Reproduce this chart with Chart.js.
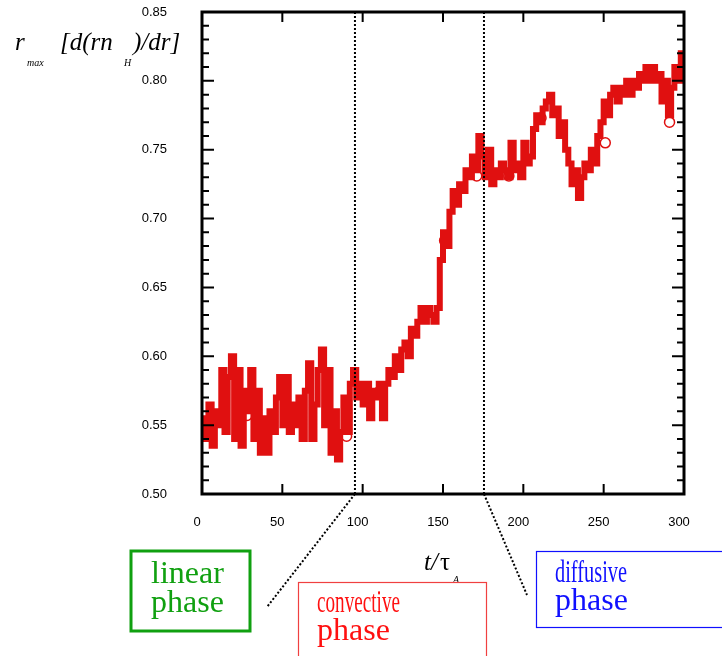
<!DOCTYPE html>
<html>
<head>
<meta charset="utf-8">
<script src="https://cdn.jsdelivr.net/npm/chart.js@4.4.1/dist/chart.umd.min.js"></script>
<style>
  html, body { margin: 0; padding: 0; background: #fff; }
  canvas { display: block; }
</style>
</head>
<body>
<canvas id="chart" width="722" height="656"></canvas>
<script>
// sample spacing of the trace, in t/tau_A
const TIME_STEP = 2;

// r_max [d(r n_H)/dr], one value every TIME_STEP from t = 0 to 300
const rValues = [
  0.555, 0.540, 0.565, 0.535, 0.560, 0.550, 0.590, 0.545, 0.585, 0.600,
  0.540, 0.590, 0.535, 0.575, 0.560, 0.590, 0.540, 0.575, 0.530, 0.555,
  0.530, 0.560, 0.545, 0.570, 0.585, 0.550, 0.585, 0.545, 0.565, 0.550,
  0.570, 0.540, 0.575, 0.595, 0.540, 0.565, 0.590, 0.605, 0.550, 0.590,
  0.530, 0.560, 0.525, 0.545, 0.570, 0.545, 0.580, 0.590, 0.570, 0.580,
  0.565, 0.580, 0.555, 0.575, 0.570, 0.580, 0.555, 0.580, 0.590, 0.585,
  0.600, 0.590, 0.605, 0.610, 0.600, 0.620, 0.615, 0.625, 0.635, 0.625,
  0.635, 0.630, 0.625, 0.635, 0.670, 0.690, 0.680, 0.705, 0.720, 0.710,
  0.725, 0.720, 0.735, 0.730, 0.745, 0.735, 0.760, 0.745, 0.730, 0.750,
  0.725, 0.735, 0.730, 0.740, 0.735, 0.730, 0.755, 0.735, 0.740, 0.730,
  0.755, 0.740, 0.745, 0.765, 0.775, 0.770, 0.780, 0.785, 0.790, 0.775,
  0.780, 0.760, 0.770, 0.750, 0.740, 0.725, 0.735, 0.715, 0.730, 0.740,
  0.735, 0.750, 0.740, 0.760, 0.770, 0.785, 0.775, 0.790, 0.795, 0.785,
  0.795, 0.790, 0.800, 0.790, 0.800, 0.795, 0.805, 0.800, 0.810, 0.800,
  0.810, 0.800, 0.805, 0.785, 0.800, 0.775, 0.795, 0.810, 0.800, 0.820,
  0.810
];

// open circle markers
const markerTimes = [2, 28, 90, 110, 151, 171, 191, 211, 251, 291];
const markerValues = [0.550, 0.557, 0.542, 0.574, 0.684, 0.731, 0.731, 0.773, 0.755, 0.770];

const xTicks = [0, 50, 100, 150, 200, 250, 300];
const yTicks = [0.50, 0.55, 0.60, 0.65, 0.70, 0.75, 0.80, 0.85];
const yMinorStep = 0.01;

// phase boundaries, t/tau_A
const phaseBounds = [95.2, 175.5];

const RED = '#e01010';
const tickFont = { family: '"Liberation Sans", Arial, sans-serif', size: 13 };

const traceData = rValues.map((v, i) => ({ x: i * TIME_STEP, y: v }));
const markerData = markerTimes.map((t, i) => ({ x: t, y: markerValues[i] }));

// frame, inward ticks, phase lines, labels and boxes
const decorations = {
  id: 'decorations',
  afterDraw(chart) {
    const ctx = chart.ctx;
    const { left, right, top, bottom } = chart.chartArea;
    const xs = chart.scales.x, ys = chart.scales.y;
    ctx.save();

    // phase boundaries + dotted leaders to the boxes
    ctx.strokeStyle = '#000';
    ctx.lineWidth = 2;
    ctx.setLineDash([2, 2]);
    const leaderEnds = [[267, 607], [527, 595]];
    phaseBounds.forEach((t, i) => {
      const px = xs.getPixelForValue(t);
      ctx.beginPath();
      ctx.moveTo(px, top);
      ctx.lineTo(px, bottom);
      ctx.stroke();
      ctx.beginPath();
      ctx.moveTo(px, bottom);
      ctx.lineTo(leaderEnds[i][0], leaderEnds[i][1]);
      ctx.stroke();
    });
    ctx.setLineDash([]);

    // frame
    ctx.lineWidth = 3;
    ctx.strokeRect(left, top, right - left, bottom - top);

    // x ticks (top and bottom, pointing in)
    ctx.lineWidth = 2;
    xTicks.forEach(v => {
      const px = xs.getPixelForValue(v);
      ctx.beginPath();
      ctx.moveTo(px, bottom); ctx.lineTo(px, bottom - 10);
      ctx.moveTo(px, top); ctx.lineTo(px, top + 10);
      ctx.stroke();
    });
    // y ticks, major and minor, both sides
    for (let k = 0; k <= 35; k++) {
      const v = 0.5 + k * yMinorStep;
      const py = ys.getPixelForValue(v);
      const len = k % 5 === 0 ? 12 : 7;
      ctx.beginPath();
      ctx.moveTo(left, py); ctx.lineTo(left + len, py);
      ctx.moveTo(right, py); ctx.lineTo(right - len, py);
      ctx.stroke();
    }

    // y axis title
    ctx.fillStyle = '#000';
    ctx.textBaseline = 'alphabetic';
    ctx.textAlign = 'left';
    const big = 'italic 25px "Liberation Serif", "Times New Roman", serif';
    const small = 'italic 10px "Liberation Serif", "Times New Roman", serif';
    ctx.font = big;
    ctx.fillText('r', 15, 50);
    ctx.fillText('[d(rn', 60, 50, 58);
    ctx.fillText(')/dr]', 133, 50, 58);
    ctx.font = small;
    ctx.fillText('max', 27, 66);
    ctx.fillText('H', 124, 66);

    // x axis title
    ctx.font = big;
    ctx.fillText('t/', 424, 570);
    ctx.font = '25px "Liberation Serif", "Times New Roman", serif';
    ctx.fillText('\u03c4', 440, 570);
    ctx.font = small;
    ctx.fillText('A', 453, 583);

    // phase boxes
    const boxFont = '32px "Liberation Serif", "Times New Roman", serif';
    ctx.font = boxFont;

    ctx.strokeStyle = '#10a010';
    ctx.lineWidth = 3;
    ctx.strokeRect(131, 551, 119, 80);
    ctx.fillStyle = '#10a010';
    ctx.fillText('linear', 151, 583, 77);
    ctx.fillText('phase', 151, 612, 77);

    ctx.strokeStyle = '#f04040';
    ctx.lineWidth = 1.2;
    ctx.strokeRect(298.5, 582.5, 188, 80);
    ctx.fillStyle = '#ff1010';
    ctx.fillText('convective', 317, 612, 83);
    ctx.fillText('phase', 317, 640, 77);

    ctx.strokeStyle = '#1010ff';
    ctx.strokeRect(536.5, 551.5, 190, 76);
    ctx.fillStyle = '#1010ff';
    ctx.fillText('diffusive', 555, 582, 72);
    ctx.fillText('phase', 555, 610, 76);

    ctx.restore();
  }
};

new Chart(document.getElementById('chart'), {
  type: 'line',
  data: {
    datasets: [
      {
        data: traceData,
        borderColor: RED,
        borderWidth: 6,
        stepped: true,
        pointRadius: 0,
        fill: false,
        order: 1
      },
      {
        data: markerData,
        showLine: false,
        pointStyle: 'circle',
        pointRadius: 5,
        pointBorderWidth: 1.5,
        pointBorderColor: RED,
        pointBackgroundColor: 'rgba(0,0,0,0)',
        order: 2
      }
    ]
  },
  options: {
    responsive: false,
    animation: false,
    events: [],
    layout: { padding: { top: 12, right: 38, left: 0, bottom: 0 } },
    plugins: { legend: { display: false }, tooltip: { enabled: false } },
    scales: {
      x: {
        type: 'linear',
        min: 0,
        max: 300,
        afterBuildTicks: s => { s.ticks = xTicks.map(v => ({ value: v })); },
        afterFit: s => { s.height = 162; s.paddingLeft = 0; s.paddingRight = 0; },
        grid: { display: false, drawTicks: false },
        border: { display: false },
        ticks: { font: tickFont, color: '#000', padding: 21, labelOffset: -5, maxRotation: 0, autoSkip: false }
      },
      y: {
        min: 0.5,
        max: 0.85,
        afterBuildTicks: s => { s.ticks = yTicks.map(v => ({ value: v })); },
        afterFit: s => { s.width = 202; s.paddingTop = 0; s.paddingBottom = 0; },
        grid: { display: false, drawTicks: false },
        border: { display: false },
        ticks: { font: tickFont, color: '#000', padding: 35, autoSkip: false, callback: v => v.toFixed(2) }
      }
    }
  },
  plugins: [decorations]
});
</script>
</body>
</html>
